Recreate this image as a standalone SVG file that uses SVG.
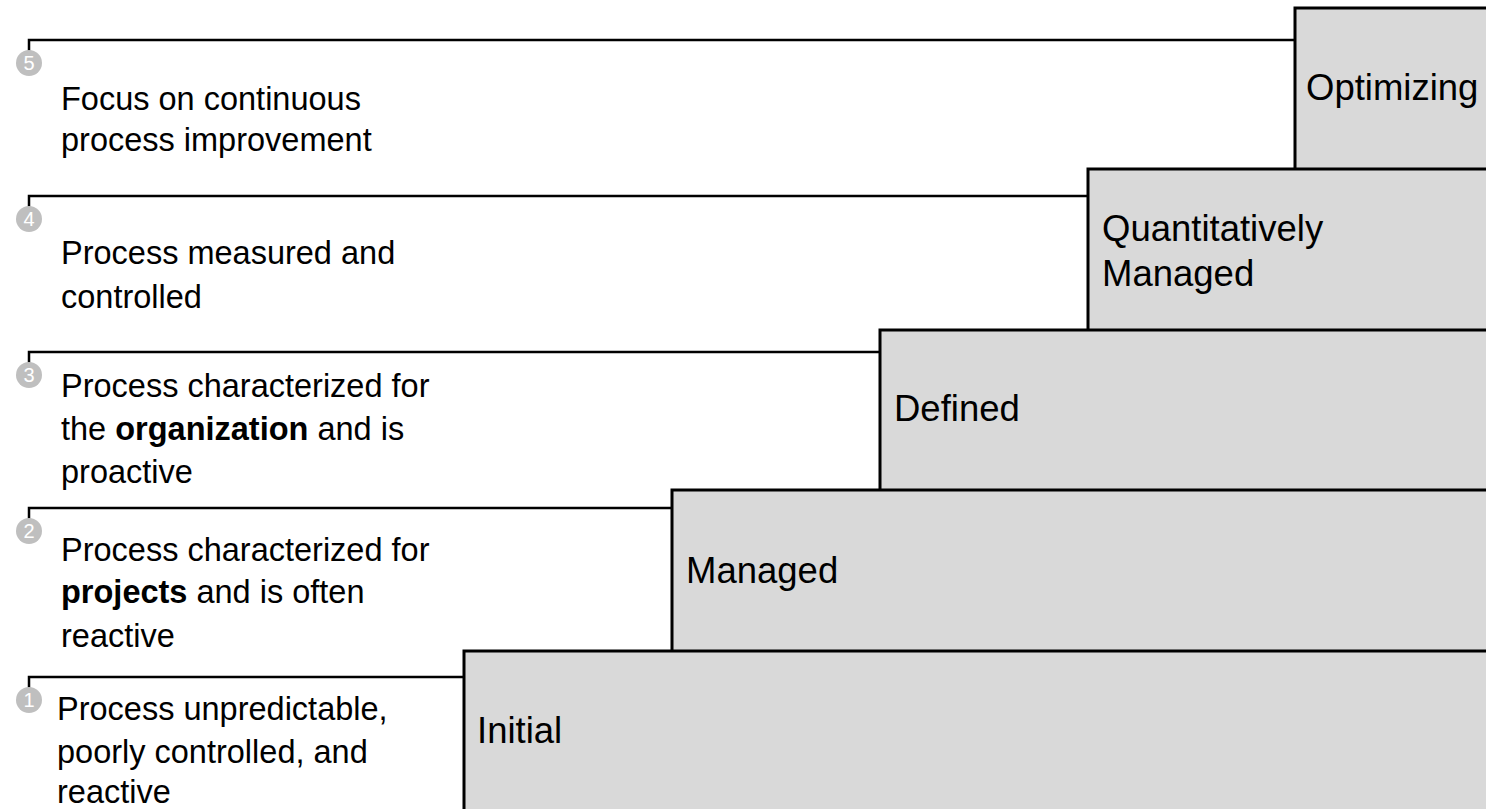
<svg xmlns="http://www.w3.org/2000/svg" width="1486" height="809" viewBox="0 0 1486 809">
<style>
.box{fill:#d9d9d9;stroke:#000;stroke-width:3}
.conn{fill:none;stroke:#000;stroke-width:2.5}
.num{fill:#bfbfbf}
.numt{fill:#fff;font-family:"Liberation Sans",Arial,sans-serif;font-size:20px;text-anchor:middle}
.desc{fill:#000;font-family:"Liberation Sans",Arial,sans-serif;font-size:32.5px}
.lbl{fill:#000;font-family:"Liberation Sans",Arial,sans-serif;font-size:36.5px}
.b{font-weight:bold}
</style>
<rect width="1486" height="809" fill="#fff"/>
<g id="connectors">
<path class="conn" d="M29,51 V40 H1295"/>
<path class="conn" d="M29,207 V196 H1088"/>
<path class="conn" d="M29,363 V352 H880"/>
<path class="conn" d="M29,519 V508 H672"/>
<path class="conn" d="M29,688 V677 H464"/>
</g>
<g id="level5">
<rect class="box" x="1295" y="8" width="220" height="820"/>
<text class="lbl" x="1306" y="100">Optimizing</text>
</g>
<g id="level4">
<rect class="box" x="1088" y="169" width="430" height="660"/>
<text class="lbl" x="1102" y="241">Quantitatively</text>
<text class="lbl" x="1102" y="286">Managed</text>
</g>
<g id="level3">
<rect class="box" x="880" y="330" width="640" height="500"/>
<text class="lbl" x="894" y="421">Defined</text>
</g>
<g id="level2">
<rect class="box" x="672" y="490" width="850" height="340"/>
<text class="lbl" x="686" y="583">Managed</text>
</g>
<g id="level1">
<rect class="box" x="464" y="651" width="1060" height="180"/>
<text class="lbl" x="477" y="743">Initial</text>
</g>
<g id="desc5">
<circle class="num" cx="29" cy="63" r="13"/>
<text class="numt" x="29" y="70">5</text>
<text class="desc" x="61" y="110">Focus on continuous</text>
<text class="desc" x="61" y="151">process improvement</text>
</g>
<g id="desc4">
<circle class="num" cx="29" cy="219" r="13"/>
<text class="numt" x="29" y="226">4</text>
<text class="desc" x="61" y="264">Process measured and</text>
<text class="desc" x="61" y="308">controlled</text>
</g>
<g id="desc3">
<circle class="num" cx="29" cy="375" r="13"/>
<text class="numt" x="29" y="382">3</text>
<text class="desc" x="61" y="397">Process characterized for</text>
<text class="desc" x="61" y="440">the <tspan class="b">organization</tspan> and is</text>
<text class="desc" x="61" y="483">proactive</text>
</g>
<g id="desc2">
<circle class="num" cx="29" cy="531" r="13"/>
<text class="numt" x="29" y="538">2</text>
<text class="desc" x="61" y="561">Process characterized for</text>
<text class="desc" x="61" y="603"><tspan class="b">projects</tspan> and is often</text>
<text class="desc" x="61" y="647">reactive</text>
</g>
<g id="desc1">
<circle class="num" cx="29" cy="700" r="13"/>
<text class="numt" x="29" y="707">1</text>
<text class="desc" x="57" y="720">Process unpredictable,</text>
<text class="desc" x="57" y="763">poorly controlled, and</text>
<text class="desc" x="57" y="803">reactive</text>
</g>
</svg>
